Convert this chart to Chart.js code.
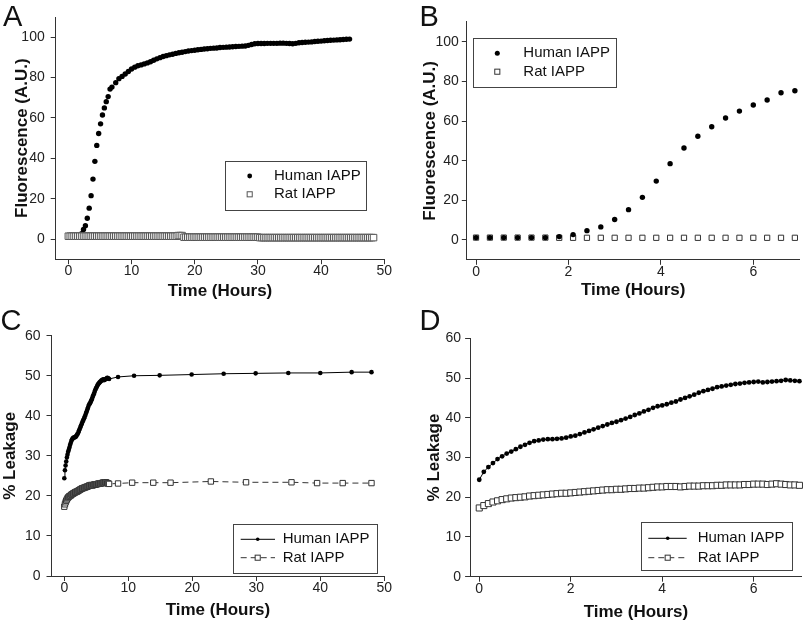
<!DOCTYPE html>
<html>
<head>
<meta charset="utf-8">
<script src="https://cdn.jsdelivr.net/npm/chart.js@4.4.0/dist/chart.umd.min.js"></script>
<style>
  html, body { margin: 0; padding: 0; background: #fff; }
  #wrap { position: relative; width: 807px; height: 624px; overflow: hidden; }
  #wrap canvas { position: absolute; left: 0; top: 0; }
  .tag { position: absolute; font-family: "Liberation Sans", Arial, sans-serif; font-size: 29px; line-height: 29px; color: #111; }
</style>
</head>
<body>
<div id="wrap">
  <canvas id="chartA" width="807" height="624"></canvas>
  <canvas id="chartB" width="807" height="624"></canvas>
  <canvas id="chartC" width="807" height="624"></canvas>
  <canvas id="chartD" width="807" height="624"></canvas>
  <div class="tag" style="left:3px;top:1.5px">A</div>
  <div class="tag" style="left:419.5px;top:1.5px">B</div>
  <div class="tag" style="left:0.5px;top:305.5px">C</div>
  <div class="tag" style="left:419.5px;top:305.5px">D</div>
</div>
<script>
// ---- data ----
var seriesNames = ["Human IAPP", "Rat IAPP"];

// panel B, and the first 7 h of panel A (0.3 h reads)
var hoursB = [0, 0.3, 0.6, 0.9, 1.2, 1.5, 1.8, 2.1, 2.4, 2.7, 3.0, 3.3, 3.6, 3.9, 4.2, 4.5, 4.8, 5.1, 5.4, 5.7, 6.0, 6.3, 6.6, 6.9];
var humanB = [1.2, 1.2, 1.2, 1.2, 1.2, 1.2, 1.7, 2.7, 4.7, 6.6, 10.3, 15.3, 21.5, 29.7, 38.5, 46.4, 52.3, 57.1, 61.5, 65.0, 68.1, 70.6, 74.3, 75.3];
var ratB = [1.2, 1.2, 1.2, 1.2, 1.2, 1.2, 1.1, 1.1, 1.1, 1.1, 1.1, 1.1, 1.1, 1.1, 1.1, 1.1, 1.1, 1.1, 1.1, 1.1, 1.1, 1.1, 1.1, 1.1];

// panel A, human after 7 h
var hoursALate = [7.5, 8, 8.5, 9, 9.5, 10, 10.5, 11, 11.5, 12, 12.5, 13, 13.5, 14, 14.5, 15, 15.5, 16, 16.5, 17,
  17.5, 18, 18.5, 19, 19.5, 20, 20.5, 21, 21.5, 22, 22.5, 23, 23.5, 24, 24.5, 25, 25.5, 26, 26.5, 27,
  27.5, 28, 28.5, 29, 29.5, 30, 30.5, 31, 31.5, 32, 32.5, 33, 33.5, 34, 34.5, 35, 35.5, 36, 36.5, 37,
  37.5, 38, 38.5, 39, 39.5, 40, 40.5, 41, 41.5, 42, 42.5, 43, 43.5, 44, 44.5];
var humanALate = [77.5, 79.5, 80.6, 81.8, 83.0, 84.3, 85.2, 85.9, 86.3, 86.8, 87.3, 87.9, 88.6, 89.3, 89.9, 90.5, 90.9, 91.3, 91.6, 92.0,
  92.3, 92.6, 92.9, 93.2, 93.4, 93.6, 93.8, 94.0, 94.2, 94.3, 94.5, 94.6, 94.7, 94.9, 95.0, 95.1, 95.2, 95.3, 95.4, 95.5,
  95.6, 95.7, 96.0, 96.4, 96.8, 96.9, 96.9, 96.9, 97.0, 97.0, 97.0, 97.0, 97.1, 97.1, 97.0, 96.9, 96.8, 97.0, 97.3, 97.4,
  97.5, 97.6, 97.7, 97.9, 98.0, 98.1, 98.3, 98.4, 98.5, 98.6, 98.7, 98.8, 98.9, 99.0, 99.1];

// panel A, rat (0.3 h reads)
var hoursA = [0, 0.3, 0.6, 0.9, 1.2, 1.5, 1.8, 2.1, 2.4, 2.7,
  3, 3.3, 3.6, 3.9, 4.2, 4.5, 4.8, 5.1, 5.4, 5.7,
  6, 6.3, 6.6, 6.9, 7.2, 7.5, 7.8, 8.1, 8.4, 8.7,
  9, 9.3, 9.6, 9.9, 10.2, 10.5, 10.8, 11.1, 11.4, 11.7,
  12, 12.3, 12.6, 12.9, 13.2, 13.5, 13.8, 14.1, 14.4, 14.7,
  15, 15.3, 15.6, 15.9, 16.2, 16.5, 16.8, 17.1, 17.4, 17.7,
  18, 18.3, 18.6, 18.9, 19.2, 19.5, 19.8, 20.1, 20.4, 20.7,
  21, 21.3, 21.6, 21.9, 22.2, 22.5, 22.8, 23.1, 23.4, 23.7,
  24, 24.3, 24.6, 24.9, 25.2, 25.5, 25.8, 26.1, 26.4, 26.7,
  27, 27.3, 27.6, 27.9, 28.2, 28.5, 28.8, 29.1, 29.4, 29.7,
  30, 30.3, 30.6, 30.9, 31.2, 31.5, 31.8, 32.1, 32.4, 32.7,
  33, 33.3, 33.6, 33.9, 34.2, 34.5, 34.8, 35.1, 35.4, 35.7,
  36, 36.3, 36.6, 36.9, 37.2, 37.5, 37.8, 38.1, 38.4, 38.7,
  39, 39.3, 39.6, 39.9, 40.2, 40.5, 40.8, 41.1, 41.4, 41.7,
  42, 42.3, 42.6, 42.9, 43.2, 43.5, 43.8, 44.1, 44.4, 44.7,
  45, 45.3, 45.6, 45.9, 46.2, 46.5, 46.8, 47.1, 47.4, 47.7,
  48, 48.3];
var ratA = [1.4, 1.4, 1.4, 1.4, 1.4, 1.4, 1.4, 1.4, 1.4, 1.4,
  1.4, 1.4, 1.4, 1.4, 1.4, 1.4, 1.4, 1.4, 1.4, 1.4,
  1.4, 1.4, 1.4, 1.4, 1.4, 1.4, 1.4, 1.4, 1.4, 1.4,
  1.4, 1.4, 1.4, 1.4, 1.4, 1.4, 1.4, 1.4, 1.4, 1.4,
  1.4, 1.4, 1.4, 1.4, 1.4, 1.4, 1.4, 1.4, 1.4, 1.4,
  1.4, 1.4, 1.4, 1.4, 1.4, 1.4, 1.4, 1.4, 1.7, 1.7,
  1.7, 0.9, 0.9, 0.9, 0.9, 0.9, 0.9, 0.9, 0.9, 0.9,
  0.9, 0.9, 0.9, 0.9, 0.9, 0.9, 0.9, 0.9, 0.9, 0.9,
  0.9, 0.9, 0.9, 0.9, 0.9, 0.9, 0.9, 0.9, 0.9, 0.9,
  0.9, 0.9, 0.9, 0.9, 0.9, 0.9, 0.9, 0.9, 0.9, 0.9,
  0.9, 0.7, 0.7, 0.7, 0.7, 0.7, 0.7, 0.7, 0.7, 0.7,
  0.7, 0.7, 0.7, 0.7, 0.7, 0.7, 0.7, 0.7, 0.7, 0.7,
  0.7, 0.7, 0.7, 0.7, 0.7, 0.7, 0.7, 0.7, 0.7, 0.7,
  0.7, 0.7, 0.7, 0.7, 0.7, 0.7, 0.7, 0.7, 0.7, 0.7,
  0.7, 0.7, 0.7, 0.7, 0.7, 0.7, 0.7, 0.7, 0.7, 0.7,
  0.7, 0.7, 0.7, 0.7, 0.7, 0.7, 0.7, 0.7, 0.7, 0.7,
  0.7, 0.7];

// panel D, and the first 7 h of panel C (0.1 h reads)
var hoursD = [0, 0.1, 0.2, 0.3, 0.4, 0.5, 0.6, 0.7, 0.8, 0.9, 1.0, 1.1, 1.2, 1.3, 1.4, 1.5, 1.6, 1.7, 1.8, 1.9,
  2.0, 2.1, 2.2, 2.3, 2.4, 2.5, 2.6, 2.7, 2.8, 2.9, 3.0, 3.1, 3.2, 3.3, 3.4, 3.5, 3.6, 3.7, 3.8, 3.9,
  4.0, 4.1, 4.2, 4.3, 4.4, 4.5, 4.6, 4.7, 4.8, 4.9, 5.0, 5.1, 5.2, 5.3, 5.4, 5.5, 5.6, 5.7, 5.8, 5.9,
  6.0, 6.1, 6.2, 6.3, 6.4, 6.5, 6.6, 6.7, 6.8, 6.9, 7.0];
var humanD = [24.4, 26.4, 27.6, 28.6, 29.6, 30.3, 31.0, 31.5, 32.1, 32.7, 33.2, 33.7, 34.1, 34.3, 34.5, 34.6, 34.6, 34.7, 34.8, 35.0,
  35.3, 35.5, 35.9, 36.3, 36.7, 37.1, 37.5, 37.9, 38.3, 38.7, 39.0, 39.4, 39.8, 40.2, 40.7, 41.1, 41.6, 42.0, 42.5, 42.9,
  43.1, 43.4, 43.8, 44.1, 44.6, 45.0, 45.4, 45.8, 46.3, 46.7, 47.0, 47.3, 47.7, 47.9, 48.1, 48.3, 48.5, 48.6, 48.8, 48.9,
  49.0, 49.1, 48.9, 49.0, 49.1, 49.2, 49.3, 49.5, 49.4, 49.3, 49.2];
var ratD = [17.3, 17.9, 18.4, 18.8, 19.1, 19.4, 19.6, 19.8, 19.9, 20.0, 20.1, 20.3, 20.4, 20.5, 20.6, 20.7, 20.8, 20.9, 21.0, 21.0,
  21.1, 21.2, 21.3, 21.4, 21.5, 21.6, 21.7, 21.8, 21.9, 21.9, 22.0, 22.0, 22.1, 22.2, 22.2, 22.3, 22.3, 22.4, 22.5, 22.6,
  22.6, 22.7, 22.7, 22.7, 22.6, 22.7, 22.8, 22.8, 22.8, 22.9, 22.9, 22.9, 23.0, 23.0, 23.1, 23.1, 23.1, 23.1, 23.2, 23.2,
  23.3, 23.3, 23.3, 23.2, 23.3, 23.4, 23.3, 23.2, 23.1, 23.1, 23.0];

// panel C, after 7 h
var hoursCHuman = [8.4, 10.9, 14.9, 19.9, 24.9, 29.9, 35.0, 40.0, 44.9, 48.0];
var humanCLate = [49.7, 50.0, 50.1, 50.3, 50.5, 50.6, 50.7, 50.7, 50.9, 50.9];
var hoursCRat = [8.4, 10.6, 13.9, 16.6, 22.9, 28.4, 35.5, 39.5, 43.5, 48.0];
var ratCLate = [23.1, 23.3, 23.3, 23.3, 23.6, 23.4, 23.4, 23.2, 23.2, 23.2];

// axis ticks
var ticksLong = [0, 10, 20, 30, 40, 50];
var ticksShort = [0, 2, 4, 6];
var ticksFluor = [0, 20, 40, 60, 80, 100];
var ticksLeak = [0, 10, 20, 30, 40, 50, 60];

// ---- helpers ----
var FAM = '"Liberation Sans", Arial, sans-serif';
var W = 807, H = 624, HALF_LH = 10.2;

function pts(xs, ys) {
  return xs.map(function(x, i) { return { x: x, y: ys[i] }; });
}

var boxLegend = {
  id: 'boxLegend',
  afterDatasetsDraw: function(chart, args, o) {
    if (!o || !o.rows) return;
    var ctx = chart.ctx;
    ctx.save();
    ctx.fillStyle = '#fff';
    ctx.fillRect(o.x, o.y, o.w, o.h);
    ctx.strokeStyle = '#444';
    ctx.lineWidth = 1;
    ctx.strokeRect(Math.round(o.x) + 0.5, Math.round(o.y) + 0.5, Math.round(o.w), Math.round(o.h));
    o.rows.forEach(function(ry, i) {
      var ds = chart.data.datasets[o.order[i]];
      if (o.line) {
        ctx.beginPath();
        ctx.setLineDash(ds.borderDash || []);
        ctx.strokeStyle = ds.borderColor;
        ctx.lineWidth = ds.borderWidth;
        ctx.moveTo(o.line[0], ry);
        ctx.lineTo(o.line[1], ry);
        ctx.stroke();
        ctx.setLineDash([]);
      }
      var r = o.radius[i];
      if (ds.pointStyle === 'rect') {
        var s = Math.SQRT1_2 * r;
        ctx.fillStyle = ds.pointBackgroundColor;
        ctx.fillRect(o.markerX - s, ry - s, 2 * s, 2 * s);
        ctx.strokeStyle = ds.pointBorderColor;
        ctx.lineWidth = 1;
        ctx.strokeRect(o.markerX - s, ry - s, 2 * s, 2 * s);
      } else {
        ctx.beginPath();
        ctx.fillStyle = ds.pointBackgroundColor;
        ctx.arc(o.markerX, ry, r, 0, Math.PI * 2);
        ctx.fill();
      }
      ctx.fillStyle = '#111';
      ctx.font = '15px ' + FAM;
      ctx.textBaseline = 'middle';
      ctx.textAlign = 'left';
      ctx.fillText(ds.label, o.textX, ry);
    });
    ctx.restore();
  }
};

function makeOptions(p) {
  var pl = p.yTitleX - HALF_LH;
  var pb = H - p.xTitleY - HALF_LH;
  var yW = p.area.l - pl;
  var xH = H - pb - p.area.b;
  return {
    responsive: false,
    animation: false,
    devicePixelRatio: 1,
    events: [],
    layout: { padding: { left: pl, top: p.area.t, right: W - p.area.r, bottom: pb } },
    plugins: {
      legend: { display: false },
      tooltip: { enabled: false },
      boxLegend: p.legend
    },
    scales: {
      x: {
        type: 'linear',
        min: p.xMin, max: p.xMax,
        afterBuildTicks: function(s) { s.ticks = p.xTicks.map(function(v) { return { value: v }; }); },
        afterFit: function(s) { s.height = xH; },
        grid: { drawOnChartArea: false, drawTicks: true, tickLength: 5, color: '#333', lineWidth: 1 },
        border: { display: true, color: '#333', width: 1 },
        ticks: { color: '#222', font: { family: FAM, size: 14 }, padding: -1, maxRotation: 0 },
        title: { display: true, text: 'Time (Hours)', color: '#111', font: { family: FAM, size: 17, weight: 'bold' }, padding: 0 }
      },
      y: {
        type: 'linear',
        min: p.yMin, max: p.yMax,
        afterBuildTicks: function(s) { s.ticks = p.yTicks.map(function(v) { return { value: v }; }); },
        afterFit: function(s) { s.width = yW; },
        grid: { drawOnChartArea: false, drawTicks: true, tickLength: 5, color: '#333', lineWidth: 1 },
        border: { display: true, color: '#333', width: 1 },
        ticks: { color: '#222', font: { family: FAM, size: 14 }, padding: p.yPad },
        title: { display: true, text: p.yTitle, color: '#111', font: { family: FAM, size: 17, weight: 'bold' }, padding: 0 }
      }
    }
  };
}

function dots(data, r, order) {
  return { label: seriesNames[0], data: data, showLine: false, pointStyle: 'circle', pointRadius: r,
    pointBackgroundColor: '#000', pointBorderColor: '#000', pointBorderWidth: 0, borderColor: '#000', borderWidth: 1, order: order, clip: false };
}
function squares(data, r, order) {
  return { label: seriesNames[1], data: data, showLine: false, pointStyle: 'rect', pointRadius: r,
    pointBackgroundColor: '#fff', pointBorderColor: '#333', pointBorderWidth: 1, borderColor: '#333', borderWidth: 1, order: order, clip: false };
}

// ---- panel A ----
var humA = dots(pts(hoursB, humanB).concat(pts(hoursALate, humanALate)), 2.7, 1);
var ratAds = squares(pts(hoursA, ratA), 4.6, 0);
ratAds.pointBorderColor = '#555';
new Chart(document.getElementById('chartA'), {
  type: 'scatter',
  data: { datasets: [humA, ratAds] },
  options: makeOptions({
    area: { l: 55.7, t: 17.1, r: 384.3, b: 259.2 }, yTitleX: 22.5, xTitleY: 291, yPad: 6,
    xMin: -2, xMax: 50, yMin: -10, yMax: 110, xTicks: ticksLong, yTicks: ticksFluor, yTitle: 'Fluorescence (A.U.)',
    legend: { x: 225, y: 161, w: 141, h: 49, markerX: 249.7, textX: 274, rows: [176, 194.3], order: [0, 1], radius: [2.4, 3.6] }
  }),
  plugins: [boxLegend]
});

// ---- panel B ----
new Chart(document.getElementById('chartB'), {
  type: 'scatter',
  data: { datasets: [dots(pts(hoursB, humanB), 2.7, 0), squares(pts(hoursB, ratB), 3.7, 1)] },
  options: makeOptions({
    area: { l: 466.8, t: 21.9, r: 799.5, b: 259.8 }, yTitleX: 430.5, xTitleY: 290, yPad: 3,
    xMin: -0.2, xMax: 7, yMin: -10, yMax: 110, xTicks: ticksShort, yTicks: ticksFluor, yTitle: 'Fluorescence (A.U.)',
    legend: { x: 473.3, y: 38.3, w: 143.4, h: 49, markerX: 497.3, textX: 523.3, rows: [53.3, 71.7], order: [0, 1], radius: [2.5, 3.6] }
  }),
  plugins: [boxLegend]
});

// ---- panel C ----
var humC = dots(pts(hoursD, humanD).concat(pts(hoursCHuman, humanCLate)), 2.3, 0);
humC.showLine = true;
var ratC = squares(pts(hoursD, ratD).concat(pts(hoursCRat, ratCLate)), 3.8, 1);
ratC.showLine = true;
ratC.borderDash = [6, 4];
new Chart(document.getElementById('chartC'), {
  type: 'scatter',
  data: { datasets: [humC, ratC] },
  options: makeOptions({
    area: { l: 51.5, t: 335.7, r: 384.3, b: 576 }, yTitleX: 10.8, xTitleY: 610, yPad: 6,
    xMin: -2, xMax: 50, yMin: 0, yMax: 60, xTicks: ticksLong, yTicks: ticksLeak, yTitle: '% Leakage',
    legend: { x: 233, y: 524.3, w: 143.7, h: 49, line: [240.7, 275], markerX: 257.7, textX: 282.7, rows: [539.3, 557.7], order: [0, 1], radius: [1.8, 3.6] }
  }),
  plugins: [boxLegend]
});

// ---- panel D ----
var humD = dots(pts(hoursD, humanD), 2.4, 0);
humD.showLine = true;
var ratDds = squares(pts(hoursD, ratD), 4.3, 1);
ratDds.showLine = true;
ratDds.borderDash = [6, 4];
new Chart(document.getElementById('chartD'), {
  type: 'scatter',
  data: { datasets: [humD, ratDds] },
  options: makeOptions({
    area: { l: 470.1, t: 338.3, r: 805.2, b: 576.7 }, yTitleX: 434.5, xTitleY: 612, yPad: 4,
    xMin: -0.2, xMax: 7.05, yMin: 0, yMax: 60, xTicks: ticksShort, yTicks: ticksLeak, yTitle: '% Leakage',
    legend: { x: 641, y: 521.7, w: 150.7, h: 48.3, line: [648.3, 686.7], markerX: 667.7, textX: 697.7, rows: [538.3, 557.7], order: [0, 1], radius: [1.8, 3.6] }
  }),
  plugins: [boxLegend]
});
</script>
</body>
</html>
